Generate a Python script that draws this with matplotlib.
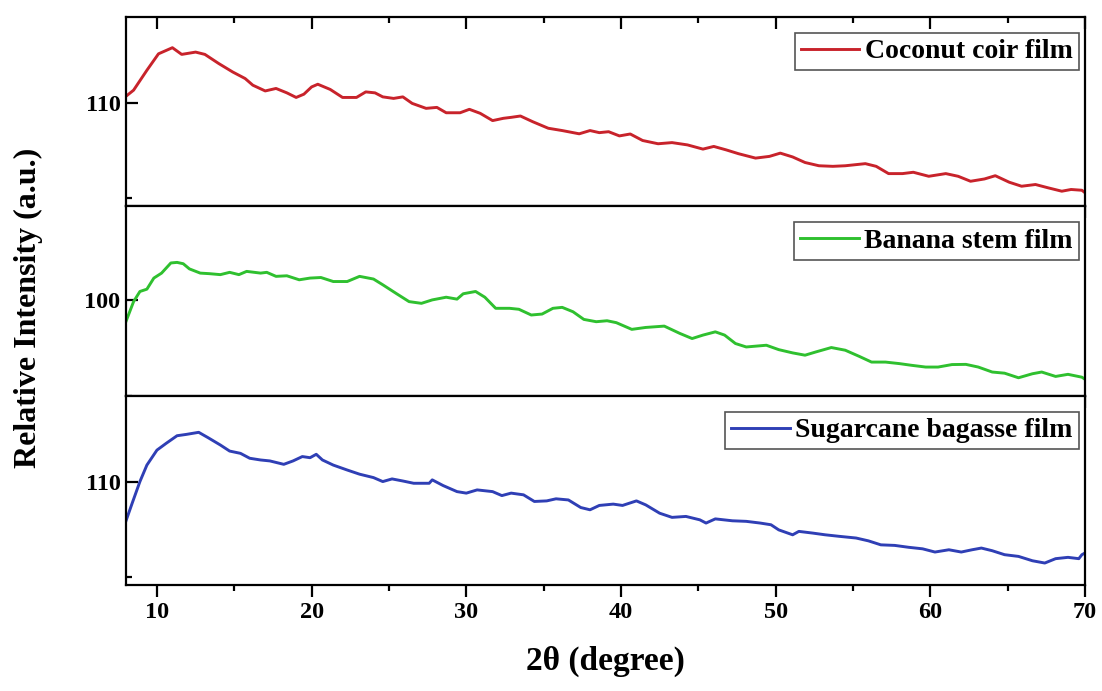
import matplotlib
matplotlib.use("Agg")
import matplotlib.pyplot as plt
from matplotlib.ticker import MultipleLocator, FixedLocator

# ---- data ----
coir_x = [7.95, 8.49, 9.35, 10.1, 11.0, 11.6, 12.5, 13.1, 14.0, 14.9, 15.7, 16.2, 17.0, 17.7,
          18.4, 19.0, 19.5, 20.0, 20.4, 21.2, 22.0, 22.9, 23.5, 24.1, 24.6, 25.3, 25.9, 26.5,
          27.4, 28.1, 28.7, 29.6, 30.2, 30.9, 31.7, 32.4, 32.9, 33.5, 34.3, 35.3, 36.2, 37.3,
          38.0, 38.6, 39.2, 39.9, 40.6, 41.4, 42.4, 43.3, 44.3, 45.3, 46.0, 46.8, 47.6, 48.7,
          49.6, 50.3, 51.1, 51.9, 52.8, 53.7, 54.5, 55.8, 56.5, 57.3, 58.2, 58.9, 59.9, 61.0,
          61.8, 62.6, 63.5, 64.2, 65.1, 65.9, 66.8, 67.6, 68.5, 69.1, 69.8, 70.0]
coir_y = [110.31, 110.66, 111.70, 112.56, 112.88, 112.53, 112.65, 112.53, 112.05, 111.61,
          111.27, 110.92, 110.62, 110.75, 110.52, 110.28, 110.45, 110.83, 110.97, 110.70,
          110.28, 110.28, 110.57, 110.52, 110.31, 110.23, 110.31, 109.97, 109.71, 109.76,
          109.48, 109.48, 109.66, 109.45, 109.07, 109.19, 109.24, 109.31, 109.01, 108.67,
          108.55, 108.38, 108.55, 108.44, 108.49, 108.27, 108.37, 108.03, 107.86, 107.92,
          107.80, 107.58, 107.72, 107.54, 107.34, 107.11, 107.20, 107.37, 107.17, 106.88,
          106.71, 106.68, 106.71, 106.82, 106.68, 106.30, 106.30, 106.37, 106.16, 106.30,
          106.16, 105.90, 106.02, 106.19, 105.85, 105.64, 105.73, 105.56, 105.38, 105.47,
          105.43, 105.30]

banana_x = [7.95, 8.49, 8.9, 9.35, 9.8, 10.3, 10.9, 11.3, 11.7, 12.1, 12.8, 13.4, 14.1, 14.7,
            15.3, 15.8, 16.7, 17.1, 17.7, 18.4, 19.2, 19.9, 20.6, 21.4, 22.3, 23.1, 24.0, 24.6,
            25.5, 26.3, 27.1, 27.8, 28.7, 29.4, 29.8, 30.6, 31.2, 31.9, 32.8, 33.4, 34.2, 34.9,
            35.6, 36.2, 36.9, 37.6, 38.4, 39.1, 39.7, 40.7, 41.6, 42.8, 43.8, 44.6, 45.3, 46.1,
            46.7, 47.4, 48.1, 49.4, 50.2, 51.1, 51.9, 52.6, 53.6, 54.5, 55.4, 56.2, 57.1, 58.0,
            58.8, 59.7, 60.5, 61.4, 62.3, 63.1, 64.0, 64.8, 65.7, 66.6, 67.2, 68.1, 68.9, 69.8,
            70.0]
banana_y = [98.77, 99.91, 100.44, 100.56, 101.14, 101.40, 101.93, 101.96, 101.89, 101.62,
            101.40, 101.37, 101.32, 101.44, 101.32, 101.49, 101.40, 101.44, 101.23, 101.26,
            101.05, 101.14, 101.17, 100.96, 100.96, 101.23, 101.09, 100.79, 100.32, 99.91,
            99.82, 100.00, 100.14, 100.04, 100.32, 100.44, 100.14, 99.56, 99.56, 99.51, 99.21,
            99.26, 99.56, 99.61, 99.38, 98.98, 98.86, 98.91, 98.81, 98.46, 98.56, 98.63, 98.25,
            97.98, 98.16, 98.33, 98.16, 97.72, 97.54, 97.63, 97.40, 97.23, 97.11, 97.28, 97.51,
            97.37, 97.05, 96.75, 96.75, 96.67, 96.58, 96.49, 96.49, 96.62, 96.63, 96.49, 96.23,
            96.17, 95.93, 96.14, 96.23, 96.00, 96.11, 95.96, 95.85]

bagasse_x = [7.95, 8.4, 8.9, 9.35, 10.0, 10.6, 11.3, 11.9, 12.7, 13.3, 14.1, 14.7, 15.4, 16.0,
             16.7, 17.3, 18.2, 18.8, 19.4, 19.9, 20.3, 20.7, 21.4, 22.3, 23.1, 24.0, 24.6, 25.2,
             25.9, 26.6, 27.6, 27.8, 28.5, 29.4, 30.0, 30.7, 31.7, 32.3, 32.9, 33.7, 34.4, 35.2,
             35.8, 36.6, 37.4, 38.0, 38.6, 39.5, 40.1, 41.0, 41.6, 42.5, 43.3, 44.2, 45.1, 45.5,
             46.1, 47.2, 48.1, 49.0, 49.7, 50.2, 51.1, 51.5, 52.4, 53.2, 54.1, 55.2, 56.0, 56.8,
             57.7, 58.6, 59.5, 60.3, 61.2, 62.0, 62.7, 63.3, 64.0, 64.8, 65.7, 66.6, 67.4, 68.1,
             68.9, 69.6, 69.8, 70.0]
bagasse_y = [107.83, 108.88, 110.02, 110.89, 111.68, 112.04, 112.44, 112.51, 112.62, 112.34,
             111.95, 111.63, 111.51, 111.25, 111.16, 111.11, 110.93, 111.11, 111.34, 111.28,
             111.46, 111.16, 110.89, 110.63, 110.41, 110.23, 110.02, 110.16, 110.05, 109.93,
             109.93, 110.11, 109.81, 109.49, 109.41, 109.58, 109.49, 109.28, 109.41, 109.32,
             108.97, 109.00, 109.11, 109.05, 108.65, 108.53, 108.76, 108.83, 108.76, 109.00,
             108.79, 108.35, 108.13, 108.18, 108.00, 107.83, 108.05, 107.95, 107.92, 107.83,
             107.74, 107.47, 107.21, 107.39, 107.30, 107.21, 107.13, 107.04, 106.89, 106.68,
             106.65, 106.55, 106.47, 106.30, 106.42, 106.30, 106.42, 106.51, 106.37, 106.16,
             106.07, 105.84, 105.72, 105.95, 106.02, 105.95, 106.16, 106.25]

labels = ["Coconut coir film", "Banana stem film", "Sugarcane bagasse film"]
colors = ["#c8232b", "#2fc02f", "#2f3fb5"]
ylims = [(104.6, 114.5), (95.0, 104.9), (104.56, 114.56)]
major_y = [110, 100, 110]
minor_y = [105, 95, 105]
xticks = [10, 20, 30, 40, 50, 60, 70]

series = [(coir_x, coir_y), (banana_x, banana_y), (bagasse_x, bagasse_y)]

plt.rcParams['font.family'] = ['Liberation Serif', 'DejaVu Serif']
plt.rcParams['font.weight'] = 'bold'

fig = plt.figure(figsize=(11.02, 6.91), dpi=100)
left, right = 126 / 1102, 1085 / 1102
top_px, bot_px = 16.7, 585.0
h = (bot_px - top_px) / 3
axes = []
for i in range(3):
    y0 = 1 - (top_px + (i + 1) * h) / 691
    ax = fig.add_axes([left, y0, right - left, h / 691])
    axes.append(ax)

for i, ax in enumerate(axes):
    xs, ys = series[i]
    ax.plot(xs, ys, color=colors[i], lw=2.1, label=labels[i])
    ax.set_xlim(8, 70)
    ax.set_ylim(*ylims[i])
    ax.xaxis.set_major_locator(FixedLocator(xticks))
    ax.xaxis.set_minor_locator(MultipleLocator(5))
    ax.yaxis.set_major_locator(FixedLocator([major_y[i]]))
    ax.yaxis.set_minor_locator(FixedLocator([minor_y[i]]))
    for s in ax.spines.values():
        s.set_linewidth(1.6)
    ax.tick_params(axis='x', which='both', direction='out', top=False, bottom=True,
                   width=1.6)
    ax.tick_params(axis='x', which='major', length=8.5)
    ax.tick_params(axis='x', which='minor', length=4.5)
    ax.tick_params(axis='y', which='both', direction='in', left=True, right=False, width=1.6)
    ax.tick_params(axis='y', which='major', length=8.5, labelsize=17.5, pad=4)
    ax.tick_params(axis='y', which='minor', length=4.5)
    if i < 2:
        ax.tick_params(axis='x', labelbottom=False)
    else:
        ax.tick_params(axis='x', labelsize=17.5, pad=4)
    if i == 0:
        ax.tick_params(axis='x', which='both', top=True)
        for t in ax.xaxis.get_major_ticks() + ax.xaxis.get_minor_ticks():
            t.tick2line.set_marker(matplotlib.lines.TICKDOWN)
    for lab in ax.get_xticklabels() + ax.get_yticklabels():
        lab.set_fontweight('bold')
    leg = ax.legend(loc='upper right', bbox_to_anchor=(0.9935, 0.915), borderaxespad=0,
                    prop={'size': 20, 'weight': 'bold'}, handlelength=2.1,
                    handletextpad=0.2, borderpad=0.22, fancybox=False, framealpha=1)
    leg.get_frame().set_edgecolor('#555555')
    leg.get_frame().set_linewidth(1.2)

fig.text(0.026, 0.555, "Relative Intensity (a.u.)", rotation=90, ha='center', va='center',
         fontsize=23, fontweight='bold')
fig.text(0.549, 0.043, "2\u03b8 (degree)", ha='center', va='center', fontsize=24,
         fontweight='bold')

fig.savefig("out.png", dpi=100)
